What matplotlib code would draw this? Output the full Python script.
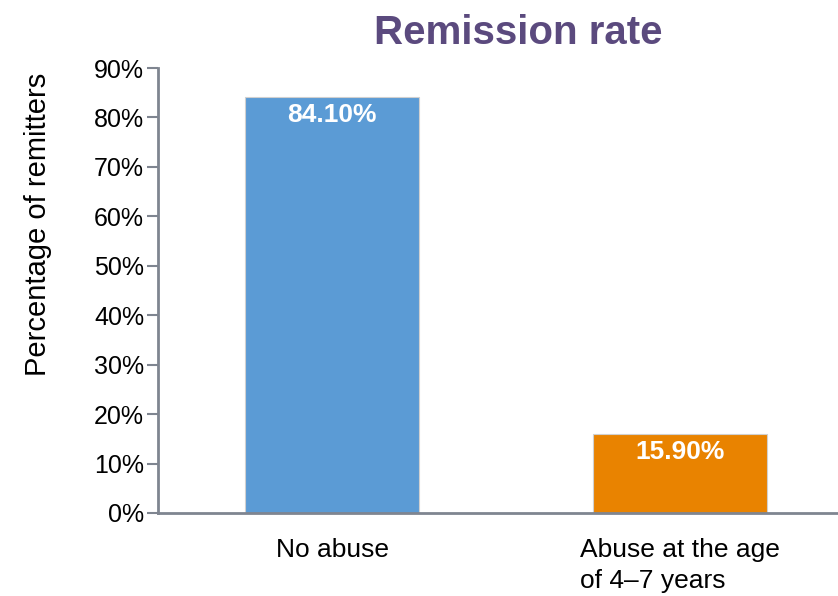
import numpy as np
import matplotlib.pyplot as plt

plt.rcParams['font.family'] = ['Liberation Sans', 'DejaVu Sans']

categories = ['No abuse', 'Abuse at the age\nof 4\u20137 years']
values = [84.1, 15.9]
labels = ['84.10%', '15.90%']
colors = ['#5B9BD5', '#E98300']
yticks = [0, 10, 20, 30, 40, 50, 60, 70, 80, 90]

fig = plt.figure(figsize=(8.38, 5.96), dpi=100)
ax = fig.add_axes([158 / 838, (596 - 513) / 596, 680 / 838, 445 / 596])

x = np.arange(len(categories))
ax.bar(x, values, width=0.5, color=colors, edgecolor='#d0d0d0', linewidth=0.8, zorder=2)

for xi, v, lab in zip(x, values, labels):
    ax.text(xi, v - 1.2, lab, ha='center', va='top', color='white',
            fontsize=19, fontweight='bold')

ax.set_xlim(-0.5, 1.454)
ax.set_ylim(0, 90)
ax.set_yticks(yticks)
ax.set_yticklabels([f'{t}%' for t in yticks])
ax.set_xticks(x)
ax.set_xticklabels(categories, multialignment='left', linespacing=1.35)

for s in ['top', 'right']:
    ax.spines[s].set_visible(False)
for s in ['left', 'bottom']:
    ax.spines[s].set_color('#7f8590')
    ax.spines[s].set_linewidth(2)

ax.tick_params(axis='y', length=8, width=1.5, color='#7f8590', labelsize=18, pad=2)
ax.tick_params(axis='x', length=0, labelsize=19, pad=18)

ax.set_ylabel('Percentage of remitters', fontsize=21)
ax.yaxis.set_label_coords((52 - 158) / 680, (513 - 224) / 445)

fig.text(518 / 838, 1 - 33 / 596, 'Remission rate', ha='center', va='center',
         fontsize=29, fontweight='bold', color='#5B4A7E')

fig.savefig('out.png', dpi=100)
